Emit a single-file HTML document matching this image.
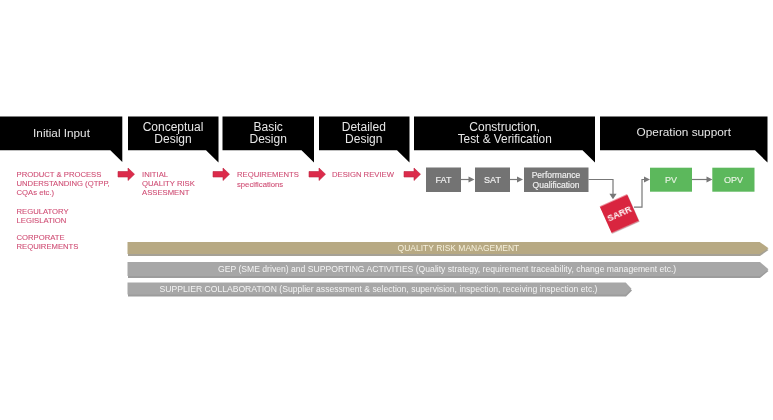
<!DOCTYPE html>
<html><head><meta charset="utf-8">
<style>
html,body{margin:0;padding:0;background:#fff;width:773px;height:420px;overflow:hidden}
svg{display:block;will-change:transform;filter:blur(0.35px)}
text{font-family:"Liberation Sans",sans-serif}
.h{fill:#e6e6e6;font-size:12px;text-anchor:middle}
.r{fill:#cf4d74;stroke:#cf4d74;stroke-width:0.1px;font-size:7.7px}
.g{fill:#f2f2f2;stroke:#f2f2f2;stroke-width:0.15px;font-size:8.5px;text-anchor:middle}
.b{fill:#f4f4f4;font-size:8.5px}
</style></head><body>
<svg width="773" height="420" viewBox="0 0 773 420">
<!-- header callouts -->
<g fill="#000">
<path d="M0 116.5H122.3V162L110.3 150.3H0Z"/>
<path d="M128 116.5H218.5V162.5L206 150.3H128Z"/>
<path d="M222.5 116.5H314V162.5L301.5 150.3H222.5Z"/>
<path d="M319 116.5H409.5V162.5L397 150.3H319Z"/>
<path d="M414 116.5H595V162.5L582.5 150.3H414Z"/>
<path d="M600 116.5H767.5V162.5L755 150.3H600Z"/>
</g>
<text class="h" x="61.5" y="136.5" style="font-size:11.75px">Initial Input</text>
<text class="h" x="173" y="131">Conceptual</text>
<text class="h" x="173" y="143.3">Design</text>
<text class="h" x="268.2" y="130.8">Basic</text>
<text class="h" x="268.2" y="143.3">Design</text>
<text class="h" x="363.8" y="131">Detailed</text>
<text class="h" x="363.8" y="143.3">Design</text>
<text class="h" x="504.7" y="131">Construction,</text>
<text class="h" x="504.7" y="143.3" style="font-size:11.85px">Test &amp; Verification</text>
<text class="h" x="683.8" y="136.4" style="font-size:11.8px">Operation support</text>

<!-- red text -->
<text class="r" x="16.5" y="176.7">PRODUCT &amp; PROCESS</text>
<text class="r" x="16.5" y="186.2">UNDERSTANDING (QTPP,</text>
<text class="r" x="16.5" y="195">CQAs etc.)</text>
<text class="r" x="16.5" y="213.5">REGULATORY</text>
<text class="r" x="16.5" y="222.5">LEGISLATION</text>
<text class="r" x="16.5" y="240">CORPORATE</text>
<text class="r" x="16.5" y="248.7">REQUIREMENTS</text>
<text class="r" x="142" y="177">INITIAL</text>
<text class="r" x="142" y="185.9">QUALITY RISK</text>
<text class="r" x="142" y="194.5">ASSESMENT</text>
<text class="r" x="237" y="177">REQUIREMENTS</text>
<text class="r" x="237" y="186.6">specifications</text>
<text class="r" x="332" y="177.3">DESIGN REVIEW</text>

<!-- red arrows -->
<g fill="#dc2b4b" stroke="#be2542" stroke-width="0.6">
<path d="M118 171.5H128V168L134.5 174.2L128 180.5V177H118Z"/>
<path d="M213 171.5H223V168L229.5 174.2L223 180.5V177H213Z"/>
<path d="M309 171.5H319V168L325.5 174.2L319 180.5V177H309Z"/>
<path d="M404 171.5H414V168L420.5 174.2L414 180.5V177H404Z"/>
</g>

<!-- gray boxes -->
<g fill="#737373">
<rect x="426" y="167.5" width="35" height="24.5"/>
<rect x="475" y="167.5" width="35" height="24.5"/>
<rect x="524" y="167.5" width="64.5" height="24.5"/>
</g>
<!-- connectors -->
<g stroke="#777" stroke-width="1.2" fill="none">
<path d="M461 179.5H469"/>
<path d="M510 179.5H517"/>
<path d="M588.5 179.5H613V194"/>
<path d="M634 207.2H642V179.5H645"/>
<path d="M692 179.5H707"/>
</g>
<g fill="#777">
<path d="M468.5 176.5L474.5 179.5L468.5 182.5Z"/>
<path d="M517 176.5L523 179.5L517 182.5Z"/>
<path d="M609.4 193.8L616.6 193.8L613 199.3Z"/>
<path d="M644 176.5L650 179.5L644 182.5Z"/>
<path d="M706.5 176.5L712.5 179.5L706.5 182.5Z"/>
</g>
<text class="g" x="443.5" y="183" style="font-size:9px">FAT</text>
<text class="g" x="492.5" y="183" style="font-size:9px">SAT</text>
<text class="g" x="556" y="177.6">Performance</text>
<text class="g" x="556" y="188.2">Qualification</text>

<!-- green -->
<g fill="#5cb85c">
<rect x="650" y="167.7" width="42" height="24"/>
<rect x="712.3" y="167.7" width="42.2" height="24"/>
</g>
<text class="g" x="671" y="183.2" style="fill:#e4f4dc;font-size:9px">PV</text>
<text class="g" x="733.4" y="183.2" style="fill:#e4f4dc;font-size:9px">OPV</text>

<!-- SARR -->
<g transform="translate(620.2 214.6) rotate(-24)">
<rect x="-15" y="-14.5" width="30" height="29" fill="#b0b0b0" opacity="0.5"/>
</g>
<g transform="translate(619.4 213.8) rotate(-24)">
<rect x="-15" y="-14.5" width="30" height="29" fill="#d9253f"/>
<text x="0" y="3.3" style="fill:#fff;font-size:9px;font-weight:bold;text-anchor:middle">SARR</text>
</g>

<!-- bars -->
<path d="M128 244H760L768.5 250L760 256H128Z" fill="#a5a196"/>
<path d="M128 264H760L768.5 271L760 278H128Z" fill="#9c9c9c"/>
<path d="M128 284.5H626L632 290.5L626 296.5H128Z" fill="#9c9c9c"/>
<path d="M127.5 242H759.7L768.5 248.2L759.7 254H127.5Z" fill="#b7a983"/>
<path d="M127.5 262H760L768.5 269.2L760 276H127.5Z" fill="#a7a7a7"/>
<path d="M127.5 282.5H625.7L631.5 288.7L625.7 294.5H127.5Z" fill="#a7a7a7"/>
<text class="b" x="397.6" y="251" style="fill:#f5f0dc">QUALITY RISK MANAGEMENT</text>
<text class="b" x="218" y="271.5" style="font-size:8.62px">GEP (SME driven) and SUPPORTING ACTIVITIES (Quality strategy, requirement traceability, change management  etc.)</text>
<text class="b" x="159.6" y="292.2" style="font-size:8.6px">SUPPLIER COLLABORATION (Supplier assessment &amp; selection, supervision, inspection, receiving inspection etc.)</text>
</svg>
</body></html>
